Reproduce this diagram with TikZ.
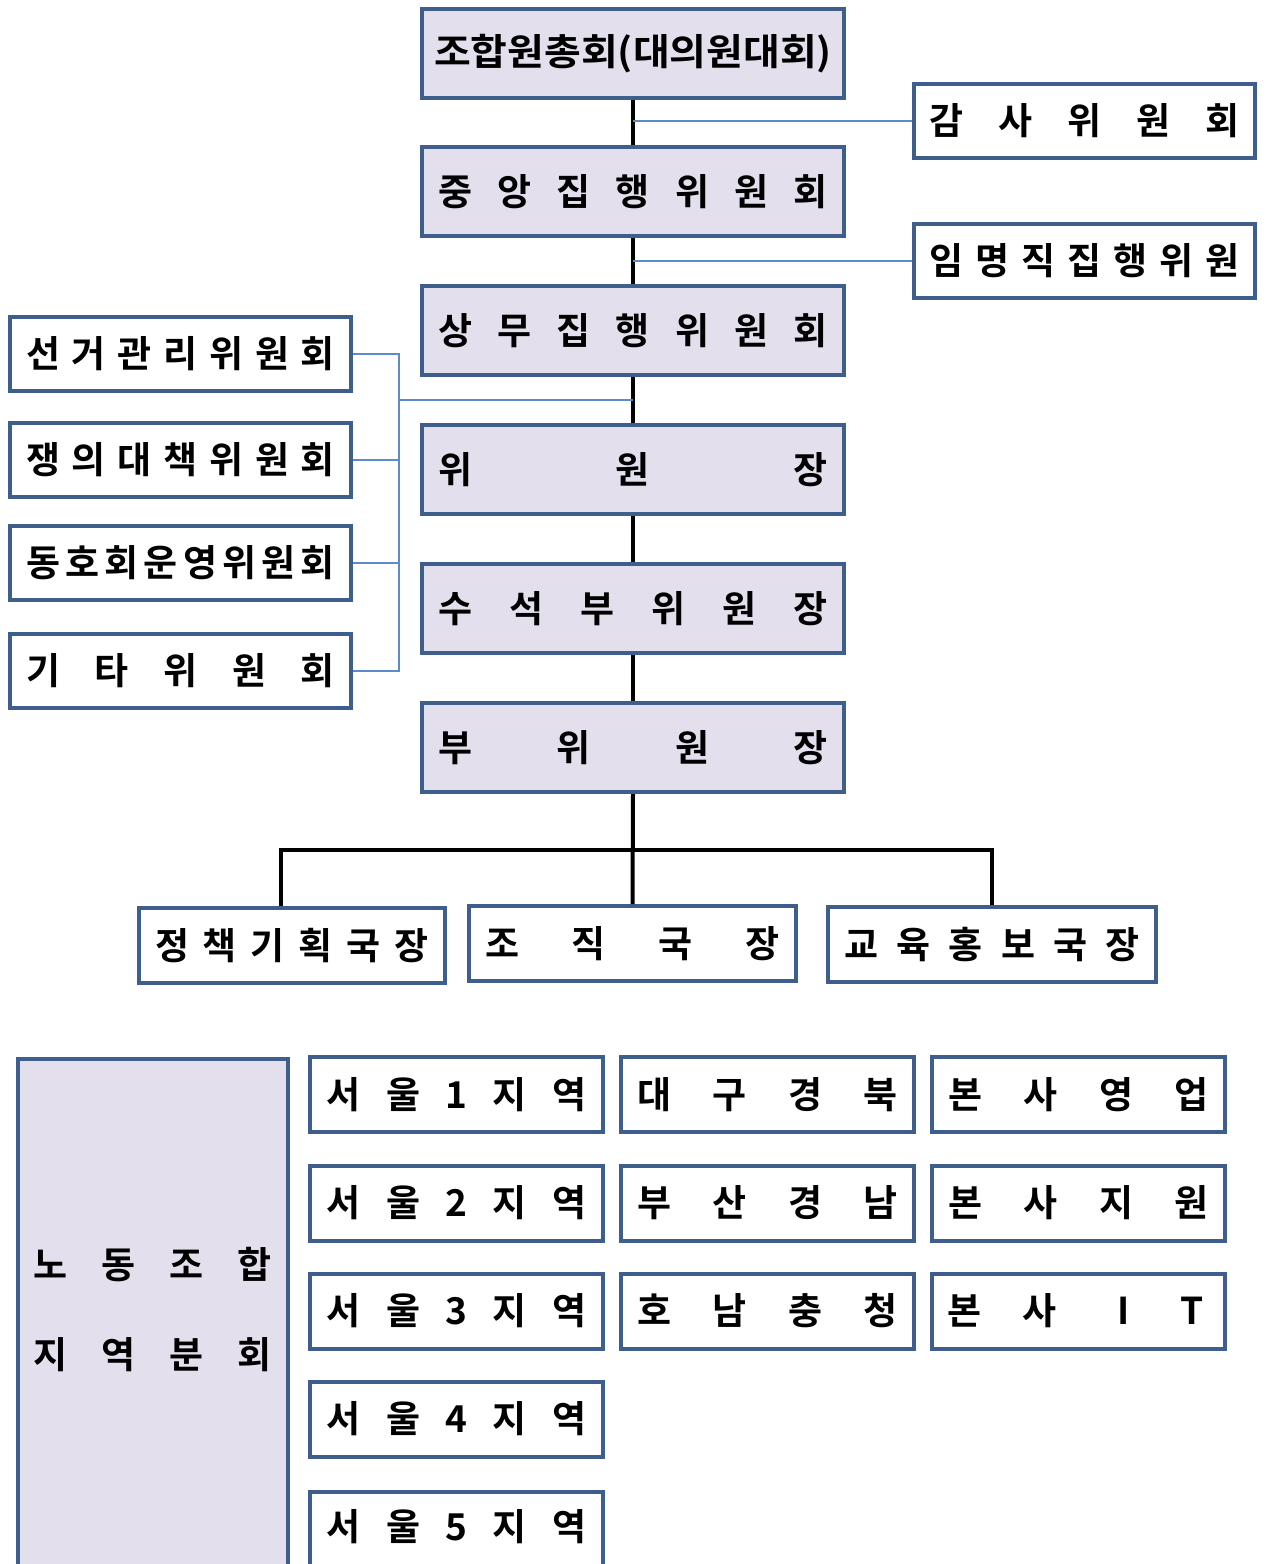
\documentclass[tikz,border=0pt]{standalone}
\usepackage{fontspec}
\newfontfamily\kr{Noto Sans CJK KR Bold}
\newfontfamily\krw[FakeStretch=1.08]{Noto Sans CJK KR Bold}
\definecolor{bordc}{HTML}{3E5F8E}
\definecolor{lav}{HTML}{E4DFEC}
\definecolor{blc}{HTML}{5B8BC9}
\newcommand\spr[2]{\makebox[#1]{#2}}
\begin{document}
\begin{tikzpicture}[x=1pt,y=-1pt,
  box/.style={draw=bordc,line width=4pt,fill=white,inner sep=0pt,
    font=\kr\fontsize{37}{42}\selectfont},
  mainbox/.style={box,fill=lav,minimum width=422pt,minimum height=89pt},
  sidebox/.style={box,minimum width=341pt,minimum height=74pt},
  orgbox/.style={box,minimum height=75pt},
  gridbox/.style={box,minimum width=293pt,minimum height=75pt},
  blk/.style={draw=black,line width=4pt},
  bl/.style={draw=blc,line width=2pt}]
\useasboundingbox (0,0) rectangle (1266,1564);
\clip (0,0) rectangle (1266,1564);
\fill[white] (0,0) rectangle (1266,1564);
% main column
\node[mainbox,font=\krw\fontsize{37}{42}\selectfont] (m1) at (633,53.5) {조합원총회(대의원대회)};
\node[mainbox] (m2) at (633,191.5) {\spr{390pt}{중\hfill 앙\hfill 집\hfill 행\hfill 위\hfill 원\hfill 회}};
\node[mainbox] (m3) at (633,330.5) {\spr{390pt}{상\hfill 무\hfill 집\hfill 행\hfill 위\hfill 원\hfill 회}};
\node[mainbox] (m4) at (633,469.5) {\spr{390pt}{위\hfill 원\hfill 장}};
\node[mainbox] (m5) at (633,608.5) {\spr{390pt}{수\hfill 석\hfill 부\hfill 위\hfill 원\hfill 장}};
\node[mainbox] (m6) at (633,747.5) {\spr{390pt}{부\hfill 위\hfill 원\hfill 장}};
% right boxes
\node[sidebox] (r1) at (1084.5,121) {\spr{310pt}{감\hfill 사\hfill 위\hfill 원\hfill 회}};
\node[sidebox] (r2) at (1084.5,260.5) {\spr{310pt}{임\hfill 명\hfill 직\hfill 집\hfill 행\hfill 위\hfill 원}};
% left boxes
\node[sidebox] (l1) at (180.5,353.5) {\spr{309pt}{선\hfill 거\hfill 관\hfill 리\hfill 위\hfill 원\hfill 회}};
\node[sidebox] (l2) at (180.5,459.5) {\spr{309pt}{쟁\hfill 의\hfill 대\hfill 책\hfill 위\hfill 원\hfill 회}};
\node[sidebox] (l3) at (180.5,563) {\spr{309pt}{동\hfill 호\hfill 회\hfill 운\hfill 영\hfill 위\hfill 원\hfill 회}};
\node[sidebox] (l4) at (180.5,671) {\spr{309pt}{기\hfill 타\hfill 위\hfill 원\hfill 회}};
% bottom row
\node[orgbox,minimum width=306pt] (o1) at (292,945.5) {\spr{274pt}{정\hfill 책\hfill 기\hfill 획\hfill 국\hfill 장}};
\node[orgbox,minimum width=327pt] (o2) at (632.5,943.5) {\spr{295pt}{조\hfill 직\hfill 국\hfill 장}};
\node[orgbox,minimum width=328pt] (o3) at (992,944.5) {\spr{296pt}{교\hfill 육\hfill 홍\hfill 보\hfill 국\hfill 장}};
% connectors black
\draw[blk] (m1.south) -- (m2.north);
\draw[blk] (m2.south) -- (m3.north);
\draw[blk] (m3.south) -- (m4.north);
\draw[blk] (m4.south) -- (m5.north);
\draw[blk] (m5.south) -- (m6.north);
\draw[blk] (m6.south) -- (o2.north);
\coordinate (hb) at (633,850);
\coordinate (o1top) at (281,906);
\draw[blk] (o1top) |- (hb) -| (o3.north);
% connectors blue
\draw[bl] (m1.south |- r1.west) -- (r1.west);
\draw[bl] (m2.south |- r2.west) -- (r2.west);
\coordinate (lb) at (399,400);
\draw[bl] (l1.east) -| (lb);
\draw[bl] (l2.east) -| (lb);
\draw[bl] (l3.east) -| (lb);
\draw[bl] (l4.east) -| (lb);
\draw[bl] (lb) -- (lb -| m3.south);
% region group
\node[box,fill=lav,minimum width=270pt,minimum height=520pt,anchor=north] (reg) at (153,1057) {};
\node[font=\kr\fontsize{37}{42}\selectfont,inner sep=0pt] (regt1) at (153,1265) {\spr{238pt}{노\hfill 동\hfill 조\hfill 합}};
\node[font=\kr\fontsize{37}{42}\selectfont,inner sep=0pt] (regt2) at (153,1355) {\spr{238pt}{지\hfill 역\hfill 분\hfill 회}};
\node[gridbox] (s1) at (456.5,1094.5) {\spr{260pt}{서\hfill 울\hfill 1\hfill 지\hfill 역}};
\node[gridbox] (s2) at (456.5,1203) {\spr{260pt}{서\hfill 울\hfill 2\hfill 지\hfill 역}};
\node[gridbox] (s3) at (456.5,1311) {\spr{260pt}{서\hfill 울\hfill 3\hfill 지\hfill 역}};
\node[gridbox] (s4) at (456.5,1419) {\spr{260pt}{서\hfill 울\hfill 4\hfill 지\hfill 역}};
\node[gridbox,minimum height=86pt,anchor=north] (s5) at (456.5,1490) {};
\node[font=\kr\fontsize{37}{42}\selectfont,inner sep=0pt] (s5t) at (456.5,1527) {\spr{260pt}{서\hfill 울\hfill 5\hfill 지\hfill 역}};
\node[gridbox] (d1) at (767.5,1094.5) {\spr{260pt}{대\hfill 구\hfill 경\hfill 북}};
\node[gridbox] (d2) at (767.5,1203) {\spr{260pt}{부\hfill 산\hfill 경\hfill 남}};
\node[gridbox] (d3) at (767.5,1311) {\spr{260pt}{호\hfill 남\hfill 충\hfill 청}};
\node[gridbox] (b1) at (1078.5,1094.5) {\spr{260pt}{본\hfill 사\hfill 영\hfill 업}};
\node[gridbox] (b2) at (1078.5,1203) {\spr{260pt}{본\hfill 사\hfill 지\hfill 원}};
\node[gridbox] (b3) at (1078.5,1311) {\makebox[228pt][l]{\makebox[0pt]{본}\hspace{75pt}\makebox[0pt]{사}\hspace{84pt}\makebox[0pt]{I}\hspace{69pt}\makebox[0pt]{T}}};
\end{tikzpicture}
\end{document}
